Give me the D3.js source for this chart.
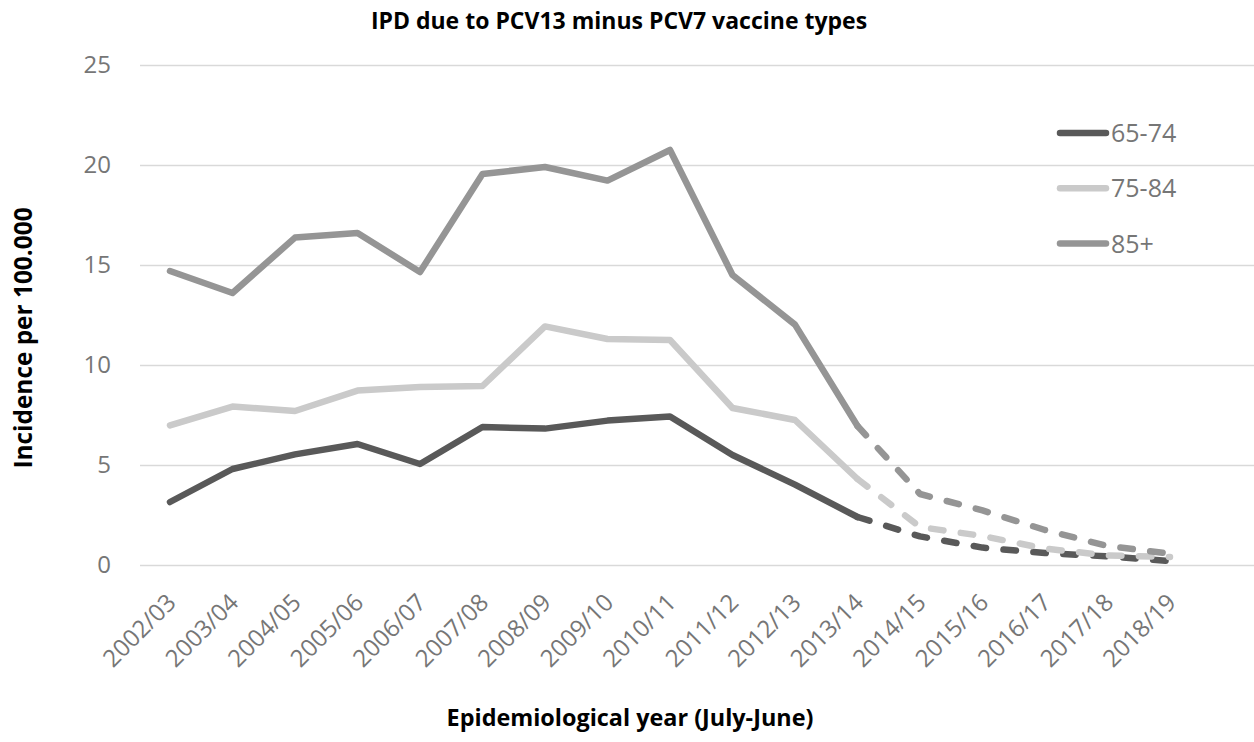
<!DOCTYPE html>
<html lang="en">
<head>
    <meta charset="UTF-8">
    <title>IPD due to PCV13 minus PCV7 vaccine types</title>
    <script src="https://cdn.jsdelivr.net/npm/d3@7/dist/d3.min.js" type="text/javascript"></script>
    <style>
        body { margin: 0; background: #fff; }
        text { font-family: "Open Sans", "Noto Sans", sans-serif; }
    </style>
</head>
<body>
<svg width="1254" height="742"></svg>
<script type="text/javascript">
    // data
    var years = ['2002/03', '2003/04', '2004/05', '2005/06', '2006/07', '2007/08', '2008/09', '2009/10',
        '2010/11', '2011/12', '2012/13', '2013/14', '2014/15', '2015/16', '2016/17', '2017/18', '2018/19'];
    var age6574 = [3.15, 4.8, 5.53, 6.05, 5.05, 6.9, 6.82, 7.22, 7.43, 5.5, 4.02, 2.4, 1.43, 0.87, 0.6, 0.43, 0.2];
    var age7584 = [6.98, 7.92, 7.7, 8.72, 8.9, 8.95, 11.93, 11.3, 11.25, 7.85, 7.25, 4.3, 1.9, 1.45, 0.82, 0.48, 0.4];
    var age85 = [14.7, 13.6, 16.37, 16.6, 14.65, 19.55, 19.9, 19.22, 20.75, 14.5, 12.02, 6.95, 3.55, 2.73, 1.75, 0.95, 0.57];
    var yTicks = [0, 5, 10, 15, 20, 25];
    var lastObserved = '2013/14';   // dashed from here on

    var series = [
        {name: '65-74', values: age6574, color: '#595959'},
        {name: '75-84', values: age7584, color: '#cacaca'},
        {name: '85+', values: age85, color: '#959595'}
    ];

    var svg = d3.select('svg');
    var plotLeft = 140, plotRight = 1254, plotTop = 65, plotBottom = 565;
    var lineW = 6.5;

    var x = d3.scalePoint()
        .domain(years)
        .range([170, 1170]);
    var y = d3.scaleLinear()
        .domain([0, 25])
        .range([plotBottom, plotTop]);

    // grid + y labels
    var yAxis = d3.axisLeft(y)
        .tickValues(yTicks)
        .tickSize(-(plotRight - plotLeft))
        .tickPadding(29);
    var gy = svg.append('g')
        .attr('transform', 'translate(' + plotLeft + ',0)')
        .call(yAxis);
    gy.select('.domain').remove();
    gy.selectAll('line').attr('stroke', '#d9d9d9').attr('stroke-width', 1.5);
    gy.selectAll('text')
        .attr('fill', '#767676')
        .style('font-size', '24px');

    // x labels
    var xAxis = d3.axisBottom(x).tickSize(0);
    var gx = svg.append('g')
        .attr('transform', 'translate(0,' + plotBottom + ')')
        .call(xAxis);
    gx.select('.domain').remove();
    gx.selectAll('text')
        .attr('fill', '#767676')
        .style('font-size', '24px')
        .attr('text-anchor', 'end')
        .attr('dy', null)
        .attr('y', 0)
        .attr('transform', 'translate(7,39) rotate(-45)');

    // lines: solid up to 2013/14, dashed after
    var line = d3.line()
        .x(function (d) { return x(d.year); })
        .y(function (d) { return y(d.value); });
    var cut = years.indexOf(lastObserved);

    series.forEach(function (s) {
        var pts = s.values.map(function (v, i) { return {year: years[i], value: v}; });
        svg.append('path')
            .datum(pts.slice(0, cut + 1))
            .attr('d', line)
            .attr('fill', 'none')
            .attr('stroke', s.color)
            .attr('stroke-width', lineW)
            .attr('stroke-linecap', 'round')
            .attr('stroke-linejoin', 'round');
        svg.append('path')
            .datum(pts.slice(cut))
            .attr('d', line)
            .attr('fill', 'none')
            .attr('stroke', s.color)
            .attr('stroke-width', lineW)
            .attr('stroke-dasharray', '12.5,17.5')
            .attr('stroke-linecap', 'round')
            .attr('stroke-linejoin', 'round');
    });

    // legend
    var legend = svg.append('g')
        .selectAll('g')
        .data(series)
        .enter()
        .append('g')
        .attr('transform', function (d, i) { return 'translate(1060,' + (133 + i * 55.3) + ')'; });
    legend.append('line')
        .attr('x1', 0).attr('x2', 46)
        .attr('stroke', function (d) { return d.color; })
        .attr('stroke-width', lineW)
        .attr('stroke-linecap', 'round');
    legend.append('text')
        .attr('x', 51)
        .attr('dy', '0.36em')
        .attr('fill', '#767676')
        .style('font-size', '25px')
        .text(function (d) { return d.name; });

    // titles
    svg.append('text')
        .attr('x', 619).attr('y', 29)
        .attr('text-anchor', 'middle')
        .style('font-size', '23px')
        .style('font-weight', 'bold')
        .text('IPD due to PCV13 minus PCV7 vaccine types');
    svg.append('text')
        .attr('x', 630).attr('y', 726)
        .attr('text-anchor', 'middle')
        .style('font-size', '23.4px')
        .style('font-weight', 'bold')
        .text('Epidemiological year (July-June)');
    svg.append('text')
        .attr('transform', 'translate(32,338) rotate(-90)')
        .attr('text-anchor', 'middle')
        .style('font-size', '24.4px')
        .style('font-weight', 'bold')
        .text('Incidence per 100.000');
</script>
</body>
</html>
